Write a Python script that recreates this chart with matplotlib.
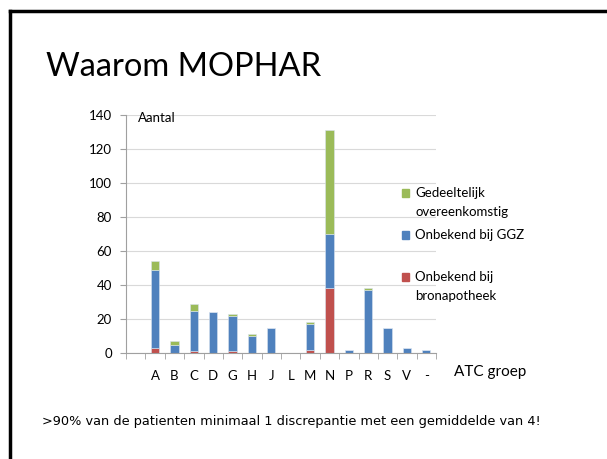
import matplotlib
matplotlib.use("Agg")
import matplotlib.pyplot as plt
import matplotlib.patches as mpatches
import numpy as np

groups = ['A', 'B', 'C', 'D', 'G', 'H', 'J', 'L', 'M', 'N', 'P', 'R', 'S', 'V', '-']
bronapotheek = [3, 0, 1, 0, 1, 0, 0, 0, 2, 38, 0, 0, 0, 0, 0]
ggz = [46, 5, 24, 24, 21, 10, 15, 0, 15, 32, 2, 37, 15, 3, 2]
gedeeltelijk = [5, 2, 4, 0, 1, 1, 0, 0, 1, 61, 0, 1, 0, 0, 0]

labels = ['Gedeeltelijk\novereenkomstig', 'Onbekend bij GGZ', 'Onbekend bij\nbronapotheek']
colors = ['#9BBB59', '#4F81BD', '#C0504D']

plt.rcParams['font.family'] = ['Lato', 'DejaVu Sans']

fig = plt.figure(figsize=(6.07, 4.59), dpi=100)

# slide frame (top and left edge)
fig.add_artist(plt.Line2D([10/607, 10/607], [0, 1 - 11/459], transform=fig.transFigure, color='black', lw=2.5))
fig.add_artist(plt.Line2D([10/607, 1], [1 - 11/459, 1 - 11/459], transform=fig.transFigure, color='black', lw=2.5))

fig.text(46/607, 1 - 67/459, 'Waarom MOPHAR', fontsize=23.5, va='center', ha='left')

ax = fig.add_axes([126/607, 1 - 353/459, 310/607, 238/459])
x = np.arange(len(groups)) + 1
w = 0.42
b1 = np.array(bronapotheek)
b2 = b1 + np.array(ggz)
ax.bar(x, bronapotheek, w, color=colors[2], edgecolor='#D9E3F0', linewidth=0.4)
ax.bar(x, ggz, w, bottom=b1, color=colors[1], edgecolor='#D9E3F0', linewidth=0.4)
ax.bar(x, gedeeltelijk, w, bottom=b2, color=colors[0], edgecolor='#D9E3F0', linewidth=0.4)

ax.set_xlim(-0.5, len(groups) + 0.5)
ax.set_ylim(0, 140)
ax.set_yticks(range(0, 141, 20))
ax.set_xticks(x)
ax.set_xticklabels(groups)
ax.set_xticks(np.arange(-0.5, len(groups) + 1, 1), minor=True)
ax.tick_params(axis='x', which='major', length=0, pad=12, labelsize=9.5)
ax.tick_params(axis='x', which='minor', length=4, color='#A0A0A0')
ax.tick_params(axis='y', length=4, color='#A0A0A0', labelsize=9.5, pad=6)
ax.yaxis.grid(True, color='#D9D9D9', lw=0.8)
ax.set_axisbelow(True)
for s in ['top', 'right']:
    ax.spines[s].set_visible(False)
ax.spines['left'].set_color('#A0A0A0')
ax.spines['bottom'].set_color('#A0A0A0')

fig.text(138/607, 1 - 118/459, 'Aantal', fontsize=9.5, va='center')
fig.text(454/607, 1 - 372/459, 'ATC groep', fontsize=11, va='center')

# legend, first text line level with the square
ys = [193, 235, 277]
for lab, c, yy in zip(labels, colors, ys):
    fig.patches.append(mpatches.Rectangle((402/607, 1 - (yy + 4)/459), 7/607, 8/459,
                                          transform=fig.transFigure, color=c))
    for i, line in enumerate(lab.split('\n')):
        fig.text(415/607, 1 - (yy + 19 * i)/459, line, fontsize=9.5, va='center')

fig.text(42/607, 1 - 421/459, '>90% van de patienten minimaal 1 discrepantie met een gemiddelde van 4!',
         fontsize=9.3, family='DejaVu Sans', va='center')

fig.savefig('out.png', dpi=100)
